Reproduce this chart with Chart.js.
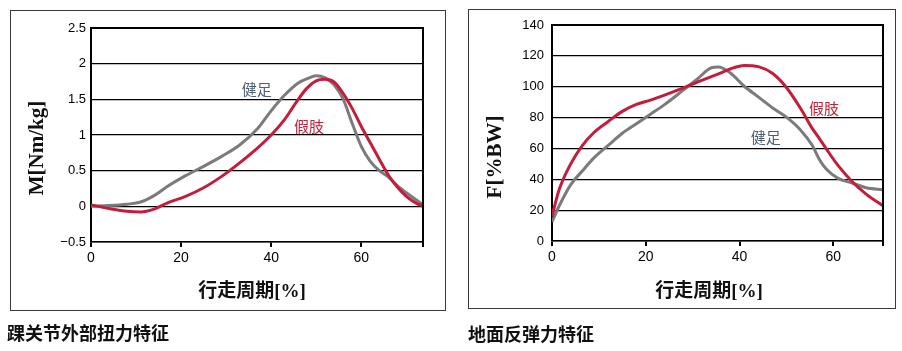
<!DOCTYPE html>
<html><head><meta charset="utf-8">
<script src="https://cdn.jsdelivr.net/npm/chart.js@4"></script>
<style>
html,body{margin:0;padding:0;background:#fff;width:902px;height:351px;overflow:hidden;}
.box{position:absolute;border:1.5px solid #3a3a3a;box-sizing:border-box;}
.cv{position:absolute;top:0;}
.cap{position:absolute;font-family:"Noto Sans CJK SC";font-weight:700;font-size:18px;color:#111;line-height:18px;white-space:nowrap;}
</style></head><body>
<div class="box" style="left:10px;top:10px;width:436px;height:301px"></div>
<div class="box" style="left:468px;top:9px;width:428px;height:300px"></div>
<canvas id="c1" class="cv" width="450" height="351" style="left:0"></canvas>
<canvas id="c2" class="cv" width="452" height="351" style="left:450px"></canvas>
<div class="cap" style="left:7px;top:323px">踝关节外部扭力特征</div>
<div class="cap" style="left:468px;top:324px">地面反弹力特征</div>
<script>
// ---- Chart 1: ankle external moment ----
const mX = [0, 4, 8, 11, 14, 17, 21, 25, 29, 33, 37, 40, 43, 46, 48, 50, 52, 54, 56, 58, 60, 62, 64, 66, 68, 70, 72, 73.7];
const mHealthy = [0, 0.01, 0.03, 0.06, 0.15, 0.28, 0.43, 0.56, 0.70, 0.86, 1.09, 1.34, 1.56, 1.73, 1.79, 1.83, 1.80, 1.70, 1.50, 1.16, 0.84, 0.63, 0.50, 0.41, 0.29, 0.19, 0.10, 0.02];
const mProsthetic = [0.02, -0.03, -0.07, -0.08, -0.04, 0.05, 0.14, 0.26, 0.42, 0.61, 0.82, 1.00, 1.22, 1.50, 1.66, 1.76, 1.78, 1.74, 1.58, 1.37, 1.12, 0.89, 0.66, 0.44, 0.27, 0.14, 0.05, 0.0];
const mYTicks = [-0.5, 0, 0.5, 1, 1.5, 2, 2.5];
const mYTickLabels = ["\u22120.5", "0", "0.5", "1", "1.5", "2", "2.5"];
const mXTicks = [0, 20, 40, 60];

// ---- Chart 2: ground reaction force ----
const fX = [0, 1.5, 4, 6.5, 9, 12, 15, 18, 21, 24, 28, 31, 34, 35.5, 38, 41, 44, 47, 50, 53, 55.5, 57, 58.5, 61, 64, 67, 70.6];
const fProsthetic = [16, 33, 50, 62, 70.5, 77.5, 84, 88.5, 91.3, 94.5, 99.2, 103, 106.6, 108.3, 111.5, 113.8, 113, 108.7, 99.5, 86, 73, 66.5, 59.7, 49, 38.6, 30.4, 22.8];
const fHealthy = [12.4, 22.5, 36.5, 45.5, 54, 62, 69.8, 76, 82.2, 88.4, 97.8, 105, 112.3, 112.8, 109, 100.3, 93.4, 86.4, 80.3, 72, 62, 53, 46.6, 40.6, 37.6, 34.5, 33.2];
const fYTicks = [0, 20, 40, 60, 80, 100, 120, 140];
const fXTicks = [0, 20, 40, 60];

const seriesNames = ["假肢", "健足"];
const RED = "#c41d3c", GRAY = "#7b7b7b";

function pts(xs, ys){ return xs.map((x,i)=>({x:x, y:ys[i]})); }

function makeChart(id, cfg){
  const decor = {
    id: 'decor',
    afterDraw(chart){
      const ctx = chart.ctx, a = chart.chartArea;
      const xs = chart.scales.x, ys = chart.scales.y;
      ctx.save();
      // right frame line
      ctx.strokeStyle = '#000'; ctx.lineWidth = 2;
      ctx.beginPath(); ctx.moveTo(a.right, a.top - 1); ctx.lineTo(a.right, a.bottom + 5); ctx.stroke();
      // series labels (data coordinates)
      ctx.font = '15px "Noto Sans CJK SC"';
      ctx.textAlign = 'center'; ctx.textBaseline = 'middle';
      cfg.labels.forEach(l => {
        ctx.fillStyle = l.color;
        ctx.fillText(l.text, xs.getPixelForValue(l.x), ys.getPixelForValue(l.y));
      });
      // y axis title
      ctx.fillStyle = '#111';
      ctx.font = 'bold 21px "Liberation Serif"';
      ctx.save();
      ctx.translate(a.left + cfg.yTitleDx, cfg.yTitleY);
      ctx.rotate(-Math.PI/2);
      ctx.fillText(cfg.yTitle, 0, 0);
      ctx.restore();
      // x axis title
      ctx.font = 'bold 19px "Liberation Serif","Noto Sans CJK SC"';
      ctx.fillText(cfg.xTitle, cfg.xTitleX, cfg.xTitleY);
      ctx.restore();
    }
  };
  return new Chart(document.getElementById(id), {
    type: 'line',
    data: { datasets: [
      { label: seriesNames[0], data: cfg.red, borderColor: RED, borderWidth: 3, pointRadius: 0, fill: false, cubicInterpolationMode: 'monotone' },
      { label: seriesNames[1], data: cfg.gray, borderColor: GRAY, borderWidth: 3, pointRadius: 0, fill: false, cubicInterpolationMode: 'monotone' }
    ]},
    options: {
      responsive: false, animation: false, devicePixelRatio: 1,
      layout: { padding: cfg.padding },
      plugins: { legend: { display: false }, tooltip: { enabled: false } },
      scales: {
        x: {
          type: 'linear', min: 0, max: cfg.xMax,
          afterBuildTicks: s => { s.ticks = cfg.xTicks.map(v => ({value: v})); },
          afterFit: s => { s.height = 30; },
          grid: { display: true, drawOnChartArea: false, drawTicks: true, tickLength: 5, color: '#000', lineWidth: 2 },
          border: { display: true, color: '#000', width: 1.5 },
          ticks: { color: '#000', padding: 3, font: { family: '"Liberation Sans"', size: 14 }, maxRotation: 0, autoSkip: false,
                   callback: v => String(v) }
        },
        y: {
          min: cfg.yTicks[0], max: cfg.yTicks[cfg.yTicks.length - 1],
          afterBuildTicks: s => { s.ticks = cfg.yTicks.map(v => ({value: v})); },
          afterFit: s => { s.width = cfg.yWidth; },
          grid: { color: '#000', drawTicks: false,
                  lineWidth: c => (c.tick && c.tick.value === cfg.yTicks[cfg.yTicks.length - 1]) ? 2 : 1.2 },
          border: { display: true, color: '#000', width: 2 },
          ticks: { color: '#000', padding: cfg.yPad, font: { family: '"Liberation Sans"', size: 13 }, autoSkip: false,
                   callback: v => cfg.yLabel(v) }
        }
      }
    },
    plugins: [decor]
  });
}

makeChart('c1', {
  red: pts(mX, mProsthetic), gray: pts(mX, mHealthy),
  xMax: 73.7, xTicks: mXTicks, yTicks: mYTicks,
  yLabel: v => mYTickLabels[mYTicks.indexOf(v)],
  yWidth: 91, yPad: 5,
  padding: { left: 0, right: 27, top: 28, bottom: 79 },
  labels: [ { text: '健足', x: 36.8, y: 1.64, color: '#4c5f6f' }, { text: '假肢', x: 48.4, y: 1.12, color: '#c0223a' } ],
  yTitle: 'M[Nm/kg]', yTitleDx: -53, yTitleY: 148,
  xTitle: '行走周期[%]', xTitleX: 252, xTitleY: 292
});

makeChart('c2', {
  red: pts(fX, fProsthetic), gray: pts(fX, fHealthy),
  xMax: 70.6, xTicks: fXTicks, yTicks: fYTicks,
  yLabel: v => String(v),
  yWidth: 102, yPad: 8,
  padding: { left: 0, right: 19, top: 25, bottom: 80 },
  labels: [ { text: '假肢', x: 58, y: 86, color: '#c0223a' }, { text: '健足', x: 45.6, y: 67.5, color: '#4c5f6f' } ],
  yTitle: 'F[%BW]', yTitleDx: -56, yTitleY: 157,
  xTitle: '行走周期[%]', xTitleX: 259, xTitleY: 292
});
</script>
</body></html>
